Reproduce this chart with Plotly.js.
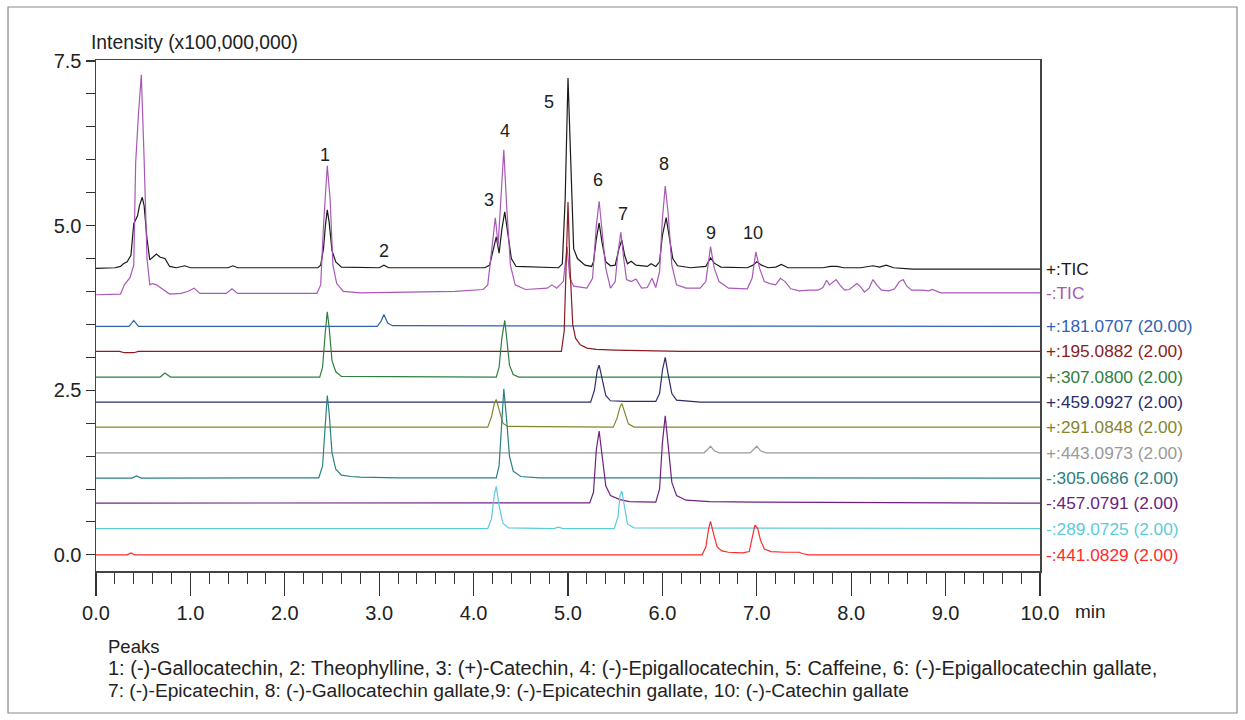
<!DOCTYPE html>
<html>
<head>
<meta charset="utf-8">
<script src="https://cdn.plot.ly/plotly-3.0.1.min.js"></script>
<style>
html,body{margin:0;padding:0;background:#fff;}
#chart{width:1245px;height:720px;}
</style>
</head>
<body>
<div id="chart"></div>
<script>
// ---- data (time in min, intensity in x100,000,000 as drawn, stacked traces) ----
const tracesNames = ['+:TIC','-:TIC','+:181.0707 (20.00)','+:195.0882 (2.00)','+:307.0800 (2.00)','+:459.0927 (2.00)','+:291.0848 (2.00)','+:443.0973 (2.00)','-:305.0686 (2.00)','-:457.0791 (2.00)','-:289.0725 (2.00)','-:441.0829 (2.00)'];
const traceColors = ['#1a1a1a','#a958b8','#3062b4','#8a1c22','#2f8040','#2c2c6c','#85852e','#9a9a9a','#2b8080','#6e2280','#5ccbdc','#ff2b2b'];

const tPosTIC = [0,0.20,0.26,0.29,0.33,0.37,0.40,0.44,0.46,0.49,0.51,0.54,0.57,0.60,0.64,0.68,0.73,0.78,0.85,0.94,1.00,1.40,1.45,1.50,2.35,2.38,2.41,2.43,2.45,2.47,2.50,2.54,2.60,3.00,3.05,3.10,4.12,4.17,4.21,4.24,4.27,4.30,4.33,4.36,4.40,4.45,4.90,4.94,4.97,5.00,5.03,5.06,5.10,5.18,5.25,5.27,5.30,5.33,5.36,5.40,5.45,5.50,5.54,5.57,5.60,5.63,5.67,5.72,5.84,5.88,5.93,5.97,6.00,6.04,6.07,6.11,6.16,6.30,6.46,6.51,6.55,6.62,6.90,6.96,7.00,7.05,7.12,7.20,7.26,7.33,7.70,7.78,7.85,7.92,8.10,8.23,8.30,8.37,8.45,8.55,8.65,10.0];
const iPosTIC = [4.35,4.36,4.38,4.42,4.45,4.55,5.03,5.15,5.30,5.43,5.30,4.80,4.48,4.52,4.57,4.52,4.50,4.38,4.36,4.39,4.36,4.36,4.39,4.36,4.36,4.40,4.65,5.00,5.24,5.05,4.62,4.45,4.37,4.36,4.40,4.36,4.36,4.40,4.65,4.83,4.58,4.95,5.21,4.90,4.50,4.38,4.36,4.42,5.40,7.24,5.80,4.65,4.50,4.40,4.38,4.45,4.80,5.04,4.75,4.45,4.39,4.40,4.65,4.78,4.55,4.42,4.46,4.40,4.38,4.42,4.38,4.45,4.85,5.12,4.85,4.50,4.39,4.36,4.38,4.51,4.43,4.37,4.36,4.40,4.45,4.40,4.36,4.37,4.41,4.36,4.36,4.38,4.38,4.36,4.36,4.39,4.37,4.40,4.36,4.35,4.34,4.34];

const tNegTIC = [0,0.26,0.30,0.36,0.40,0.42,0.45,0.48,0.51,0.54,0.57,0.60,0.64,0.70,0.78,0.90,0.97,1.04,1.10,1.38,1.44,1.50,2.34,2.38,2.41,2.45,2.48,2.51,2.55,2.62,2.80,3.80,3.95,4.10,4.15,4.19,4.23,4.26,4.29,4.32,4.35,4.39,4.44,4.55,4.78,4.83,4.88,4.95,4.99,5.02,5.06,5.20,5.26,5.30,5.33,5.36,5.40,5.45,5.50,5.53,5.56,5.59,5.62,5.67,5.72,5.78,5.84,5.89,5.93,5.97,6.00,6.03,6.06,6.10,6.15,6.25,6.40,6.46,6.51,6.55,6.60,6.70,6.90,6.95,6.99,7.03,7.08,7.14,7.20,7.25,7.30,7.36,7.45,7.55,7.65,7.70,7.74,7.77,7.80,7.84,7.88,7.93,7.98,8.02,8.06,8.10,8.14,8.19,8.23,8.27,8.32,8.40,8.46,8.51,8.55,8.59,8.64,8.75,8.82,8.86,8.95,10.0];
const iNegTIC = [3.95,3.96,4.10,4.21,4.40,5.95,6.70,7.29,6.00,4.50,4.10,4.12,4.10,4.04,3.96,3.97,4.00,4.05,3.97,3.97,4.04,3.97,3.97,4.10,5.00,5.91,5.40,4.40,4.12,4.00,3.98,4.00,4.02,4.03,4.10,4.60,5.12,4.71,5.50,6.15,5.30,4.40,4.10,4.03,4.05,4.10,4.05,4.15,4.68,4.20,4.08,4.05,4.20,5.00,5.37,4.90,4.35,4.05,4.15,4.60,4.90,4.50,4.18,4.15,4.19,4.05,4.06,4.20,4.06,4.30,5.10,5.60,5.20,4.40,4.10,4.05,4.05,4.15,4.68,4.35,4.15,4.05,4.04,4.20,4.60,4.35,4.15,4.12,4.10,4.20,4.15,4.04,4.01,4.02,4.02,4.06,4.17,4.10,4.13,4.18,4.10,4.02,4.03,4.08,4.12,4.07,3.99,4.05,4.18,4.10,4.02,4.01,4.04,4.15,4.18,4.08,4.02,4.02,4.01,4.03,3.98,3.98];

const t181 = [0,0.35,0.40,0.45,2.98,3.02,3.05,3.09,3.14,10.0];
const i181 = [3.47,3.47,3.56,3.47,3.47,3.55,3.65,3.52,3.48,3.47];

const t195 = [0,0.25,0.30,0.40,0.45,4.93,4.96,4.98,5.00,5.02,5.05,5.08,5.13,5.20,5.30,5.50,5.90,6.20,10.0];
const i195 = [3.09,3.09,3.07,3.07,3.09,3.09,3.40,4.60,5.36,4.40,3.50,3.29,3.19,3.14,3.12,3.11,3.10,3.09,3.09];

const t307 = [0,0.68,0.73,0.79,2.37,2.40,2.43,2.45,2.47,2.50,2.54,2.60,4.24,4.27,4.30,4.33,4.35,4.38,4.42,4.48,10.0];
const i307 = [2.70,2.70,2.76,2.70,2.70,2.85,3.40,3.69,3.45,2.95,2.78,2.71,2.70,2.85,3.30,3.56,3.30,2.88,2.74,2.70,2.70];

const t459 = [0,5.24,5.28,5.31,5.33,5.36,5.40,5.45,5.60,5.93,5.97,6.00,6.03,6.06,6.10,6.15,6.30,6.40,10.0];
const i459 = [2.32,2.32,2.50,2.80,2.88,2.68,2.42,2.34,2.33,2.33,2.45,2.80,3.00,2.75,2.45,2.35,2.33,2.32,2.32];

const t291 = [0,4.15,4.19,4.22,4.24,4.27,4.31,4.36,5.48,5.52,5.55,5.57,5.60,5.64,5.70,10.0];
const i291 = [1.94,1.94,2.10,2.30,2.36,2.20,2.00,1.95,1.94,2.08,2.24,2.30,2.15,1.99,1.94,1.94];

const t443 = [0,6.44,6.48,6.51,6.55,6.60,6.93,6.97,7.00,7.04,7.10,10.0];
const i443 = [1.55,1.55,1.60,1.65,1.58,1.55,1.55,1.60,1.65,1.58,1.55,1.55];

const t305 = [0,0.38,0.43,0.48,2.36,2.40,2.43,2.45,2.47,2.50,2.54,2.60,2.70,2.80,3.20,4.24,4.27,4.30,4.32,4.35,4.38,4.42,4.50,4.70,10.0];
const i305 = [1.165,1.165,1.20,1.165,1.17,1.35,2.00,2.42,2.15,1.55,1.30,1.21,1.19,1.18,1.17,1.17,1.35,2.10,2.52,2.05,1.50,1.27,1.19,1.17,1.165];

const t457 = [0,5.23,5.27,5.30,5.33,5.36,5.40,5.45,5.55,5.65,5.80,5.93,5.97,6.00,6.03,6.06,6.10,6.15,6.25,6.50,7.00,10.0];
const i457 = [0.786,0.79,0.95,1.60,1.88,1.50,1.05,0.90,0.84,0.81,0.80,0.80,1.00,1.70,2.11,1.70,1.10,0.90,0.83,0.81,0.80,0.786];

const t289 = [0,4.15,4.19,4.22,4.24,4.27,4.31,4.37,4.85,4.90,4.95,5.49,5.53,5.55,5.57,5.60,5.63,5.70,10.0];
const i289 = [0.40,0.40,0.55,0.92,1.04,0.75,0.48,0.41,0.40,0.42,0.40,0.40,0.58,0.90,0.97,0.70,0.47,0.41,0.40];

const t441 = [0,0.33,0.37,0.41,6.42,6.46,6.49,6.51,6.54,6.58,6.63,6.70,6.85,6.92,6.95,6.98,7.01,7.04,7.08,7.15,7.30,7.45,7.48,7.55,10.0];
const i441 = [0,0,0.03,0,0,0.12,0.40,0.51,0.33,0.12,0.06,0.04,0.03,0.05,0.25,0.45,0.40,0.22,0.09,0.05,0.04,0.04,0.02,0,0];

const traceTimes = [tPosTIC,tNegTIC,t181,t195,t307,t459,t291,t443,t305,t457,t289,t441];
const traceInts  = [iPosTIC,iNegTIC,i181,i195,i307,i459,i291,i443,i305,i457,i289,i441];

const peakLabels = ['1','2','3','4','5','6','7','8','9','10'];
const peakLabelT = [2.43,3.05,4.16,4.33,4.80,5.32,5.58,6.02,6.51,6.96];
const peakLabelI = [6.08,4.62,5.39,6.43,6.88,5.70,5.18,5.94,4.89,4.89];

const footerLines = ['Peaks',
 '1: (-)-Gallocatechin, 2: Theophylline, 3: (+)-Catechin, 4: (-)-Epigallocatechin, 5: Caffeine, 6: (-)-Epigallocatechin gallate,',
 '7: (-)-Epicatechin, 8: (-)-Gallocatechin gallate,9: (-)-Epicatechin gallate, 10: (-)-Catechin gallate'];

// ---- build ----
const FONT = '"Liberation Sans", Arial, sans-serif';
const data = traceTimes.map((t,k)=>({
  type:'scatter', mode:'lines', x:t, y:traceInts[k], name:tracesNames[k],
  line:{color:traceColors[k], width:1.2}, hoverinfo:'skip'
}));

const annotations = [];
traceInts.forEach((arr,k)=>{
  annotations.push({xref:'paper', yref:'y', x:1, y:arr[arr.length-1], xanchor:'left', yanchor:'middle',
    xshift:4, text:tracesNames[k], showarrow:false, font:{family:FONT, size:17.3, color:traceColors[k]}});
});
peakLabels.forEach((s,k)=>{
  annotations.push({xref:'x', yref:'y', x:peakLabelT[k], y:peakLabelI[k], text:s, showarrow:false,
    xanchor:'center', yanchor:'middle', font:{family:FONT, size:18, color:'#222'}});
});
annotations.push({xref:'paper', yref:'paper', x:0, y:1, xanchor:'left', yanchor:'bottom', xshift:-7, yshift:5,
  text:'Intensity (x100,000,000)', showarrow:false, font:{family:FONT, size:19.3, color:'#222'}});
annotations.push({xref:'paper', yref:'paper', x:1, y:0, xanchor:'left', yanchor:'middle', xshift:33, yshift:-40,
  text:'min', showarrow:false, font:{family:FONT, size:19, color:'#222'}});
const footerSizes = [18.5, 20, 19.2];
footerLines.forEach((s,k)=>{
  annotations.push({xref:'paper', yref:'paper', x:0, y:0, xanchor:'left', yanchor:'middle', xshift:10, yshift:-75-22*k,
    text:s, showarrow:false, font:{family:FONT, size:footerSizes[k], color:'#222'}});
});

const layout = {
  width:1245, height:720,
  margin:{l:96, r:205, t:60, b:149, pad:0},
  paper_bgcolor:'#fff', plot_bgcolor:'#fff',
  showlegend:false,
  font:{family:FONT, color:'#222'},
  xaxis:{range:[0,10], showgrid:false, zeroline:false, showline:true, mirror:true, linecolor:'#444', linewidth:1.5,
    ticks:'outside', ticklen:23, tickwidth:1.2, tickcolor:'#333', dtick:1, tick0:0, tickformat:'.1f',
    tickfont:{family:FONT, size:20, color:'#222'},
    minor:{dtick:0.2, ticks:'outside', ticklen:11, tickwidth:1, tickcolor:'#333'}},
  yaxis:{range:[-0.245,7.515], showgrid:false, zeroline:false, showline:true, mirror:true, linecolor:'#444', linewidth:1.5,
    ticks:'outside', ticklen:9, tickwidth:1.2, tickcolor:'#333', dtick:2.5, tick0:0, tickformat:'.1f',
    tickfont:{family:FONT, size:20, color:'#222'},
    minor:{dtick:0.5, ticks:'outside', ticklen:9, tickwidth:1, tickcolor:'#333'}},
  annotations:annotations,
  shapes:[{type:'rect', xref:'paper', yref:'paper', x0:-0.0932, x1:1.2087, y0:-0.2779, y1:1.1037,
    line:{color:'#8a8a8a', width:1.2}, fillcolor:'rgba(0,0,0,0)', layer:'below'}]
};

Plotly.newPlot('chart', data, layout, {displayModeBar:false, staticPlot:true});
</script>
</body>
</html>
